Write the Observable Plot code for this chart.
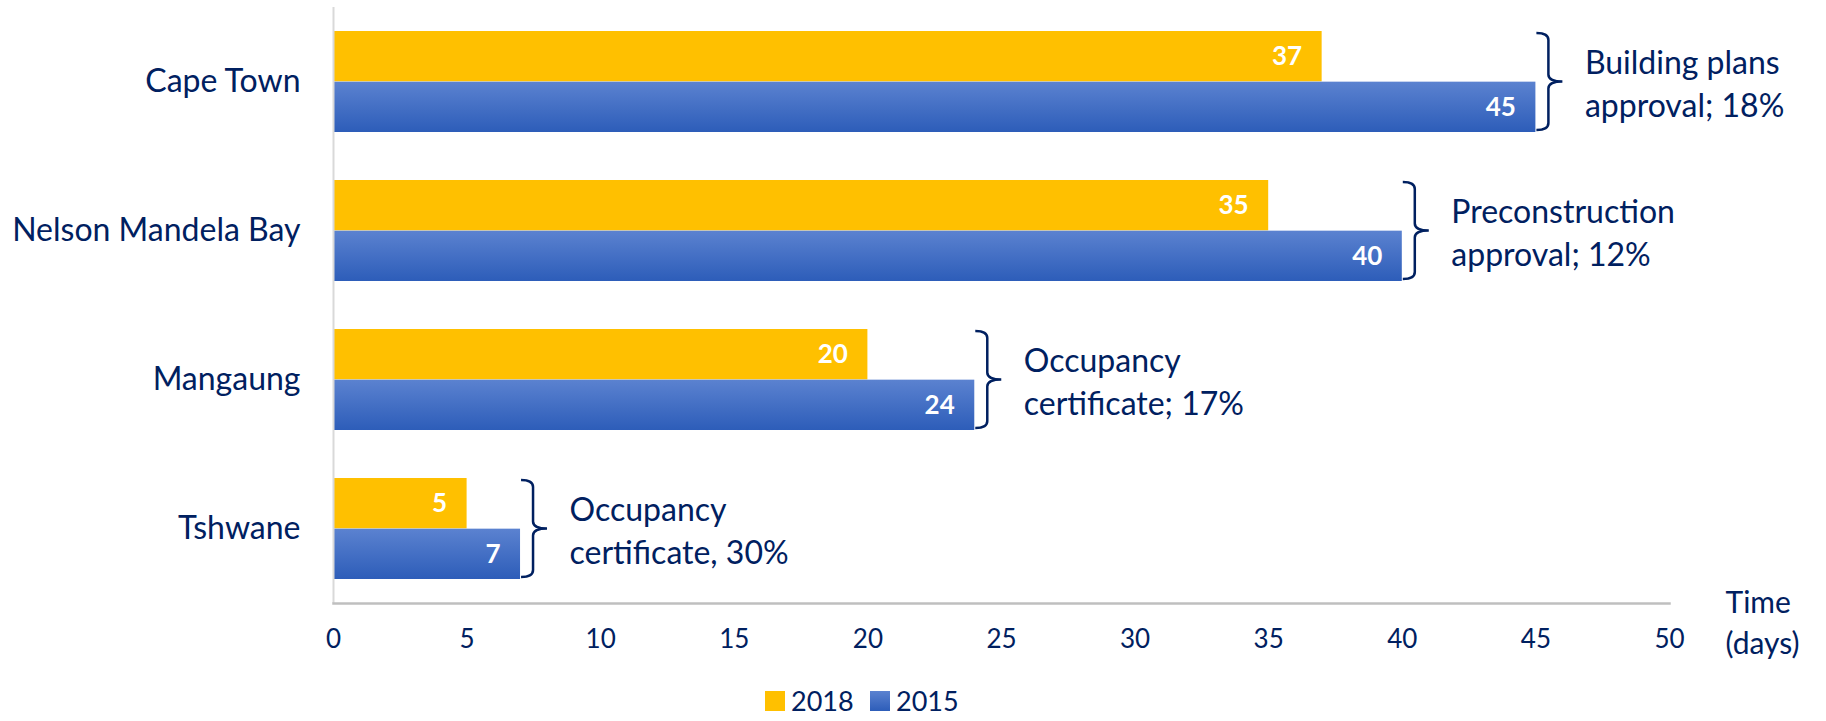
<!DOCTYPE html>
<html>
<head>
<meta charset="utf-8">
<script src="https://cdn.jsdelivr.net/npm/d3@7"></script>
<script src="https://cdn.jsdelivr.net/npm/@observablehq/plot@0.6"></script>
<style>
  html, body { margin: 0; padding: 0; background: #fff; }
  #chart { width: 1826px; }
  #legend { position: relative; height: 41px; font-family: Lato, sans-serif; font-size: 27px; color: #002060; }
  #legend .item { position: absolute; top: 0; display: flex; align-items: center; height: 41px; }
  #legend .sw { width: 20px; height: 20px; margin-right: 6px; }
</style>
</head>
<body>
<div id="chart"></div>
<div id="legend"></div>
<script>
// ---- data ----
const cities = ["Cape Town", "Nelson Mandela Bay", "Mangaung", "Tshwane"];
const days2018 = [37, 35, 20, 5];
const days2015 = [45, 40, 24, 7];
const stageNotes = [
  "Building plans\napproval; 18%",
  "Preconstruction\napproval; 12%",
  "Occupancy\ncertificate; 17%",
  "Occupancy\ncertificate, 30%"
];
const xTicks = [0, 5, 10, 15, 20, 25, 30, 35, 40, 45, 50];
const xLabel = "Time\n(days)";
const seriesNames = ["2018", "2015"];

// ---- styling / layout ----
const navy = "#002060";
const yellow = "#FFC000";
const blueTop = "#5b82d0", blueBottom = "#2d5db9";
const W = 1826, H = 680, mt = 7, mb = 77, ml = 333, mr = 157;
const padInner = 0.32, padOuter = 0.16;
const bw = (H - mt - mb) / (cities.length - padInner + 2 * padOuter) * (1 - padInner);
const half = bw / 2;

const rows2018 = cities.map((city, i) => ({city, value: days2018[i]}));
const rows2015 = cities.map((city, i) => ({city, value: days2015[i]}));
const notes = cities.map((city, i) => ({city, value: Math.max(days2018[i], days2015[i]), note: stageNotes[i]}));

const NS = "http://www.w3.org/2000/svg";
function defsMark() {
  const defs = document.createElementNS(NS, "defs");
  const g = document.createElementNS(NS, "linearGradient");
  g.setAttribute("id", "blue-grad");
  g.setAttribute("x1", "0"); g.setAttribute("y1", "0");
  g.setAttribute("x2", "0"); g.setAttribute("y2", "1");
  [[0, blueTop], [1, blueBottom]].forEach(([o, c]) => {
    const s = document.createElementNS(NS, "stop");
    s.setAttribute("offset", o); s.setAttribute("stop-color", c);
    g.appendChild(s);
  });
  defs.appendChild(g);
  return defs;
}

function bracesMark(index, scales) {
  const g = document.createElementNS(NS, "g");
  const b = scales.y.bandwidth();
  notes.forEach(d => {
    const x0 = scales.x(d.value) + 1;
    const xl = x0 + 12, xt = x0 + 26, r = 7;
    const yt = scales.y(d.city) + 2, yb = scales.y(d.city) + b - 2, ym = scales.y(d.city) + b / 2;
    const p = document.createElementNS(NS, "path");
    p.setAttribute("d",
      `M${x0},${yt} Q${xl},${yt} ${xl},${yt + r} V${ym - r} Q${xl},${ym} ${xt},${ym}` +
      ` Q${xl},${ym} ${xl},${ym + r} V${yb - r} Q${xl},${yb} ${x0},${yb}`);
    p.setAttribute("fill", "none");
    p.setAttribute("stroke", navy);
    p.setAttribute("stroke-width", 2.5);
    g.appendChild(p);
  });
  return g;
}

const plot = Plot.plot({
  width: W, height: H,
  marginTop: mt, marginBottom: mb, marginLeft: ml, marginRight: mr,
  style: {fontFamily: "Lato, sans-serif", color: navy, background: "white", overflow: "visible"},
  x: {domain: [0, 50]},
  y: {domain: cities, paddingInner: padInner, paddingOuter: padOuter},
  marks: [
    defsMark,
    Plot.barX(rows2018, {x: "value", y: "city", fill: yellow, insetBottom: half}),
    Plot.barX(rows2015, {x: "value", y: "city", fill: "url(#blue-grad)", insetTop: half}),
    Plot.ruleX([0], {stroke: "#d9d9d9", strokeWidth: 2}),
    Plot.frame({anchor: "bottom", stroke: "#bfbfbf", strokeWidth: 2.5}),
    Plot.axisY({tickSize: 0, tickPadding: 33, fontSize: 32, label: null}),
    Plot.axisX({ticks: xTicks, tickSize: 0, tickPadding: 26, fontSize: 26, label: null}),
    Plot.text(rows2018, {x: "value", y: "city", text: d => String(d.value), dy: -bw / 4, dx: -20,
      textAnchor: "end", fill: "white", fontWeight: "bold", fontSize: 26}),
    Plot.text(rows2015, {x: "value", y: "city", text: d => String(d.value), dy: bw / 4, dx: -20,
      textAnchor: "end", fill: "white", fontWeight: "bold", fontSize: 26}),
    bracesMark,
    Plot.text(notes, {x: "value", y: "city", text: "note", dx: 49, textAnchor: "start",
      lineHeight: 1.32, fontSize: 32, fill: navy}),
    Plot.text([xLabel], {frameAnchor: "bottom-right", dx: 56, dy: 17, textAnchor: "start",
      lineAnchor: "middle", lineHeight: 1.37, fontSize: 30, fill: navy})
  ]
});
document.getElementById("chart").appendChild(plot);

// ---- legend (HTML, below the SVG) ----
const legend = document.getElementById("legend");
const swatches = [yellow, `linear-gradient(${blueTop}, ${blueBottom})`];
const lefts = [765, 870];
seriesNames.forEach((name, i) => {
  const item = document.createElement("div");
  item.className = "item";
  item.style.left = lefts[i] + "px";
  const sw = document.createElement("div");
  sw.className = "sw";
  sw.style.background = swatches[i];
  const t = document.createElement("span");
  t.textContent = name;
  item.appendChild(sw); item.appendChild(t);
  legend.appendChild(item);
});
</script>
</body>
</html>
